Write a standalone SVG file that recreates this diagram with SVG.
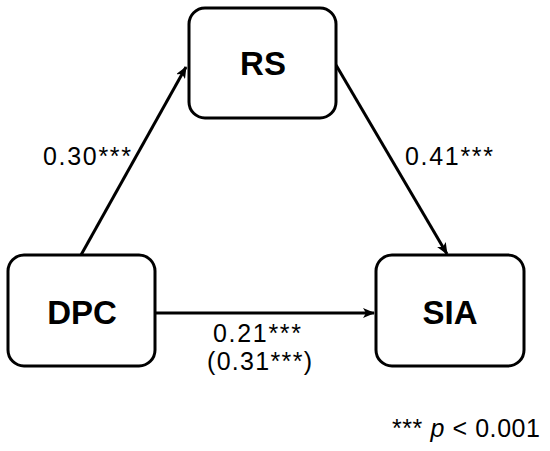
<svg xmlns="http://www.w3.org/2000/svg" width="550" height="451" viewBox="0 0 550 451">
<style>
.box{fill:#fff;stroke:#000;stroke-width:3}
.lbl{font-family:"Liberation Sans",Arial,sans-serif;font-weight:bold;font-size:33px;text-anchor:middle;fill:#000}
.coef{font-family:"Liberation Sans",Arial,sans-serif;font-size:25px;fill:#000}
.edge{stroke:#000;stroke-width:3;fill:none}
</style>
<defs>
<marker id="ah" viewBox="0 0 12 10" refX="11" refY="5" markerWidth="12" markerHeight="10" markerUnits="userSpaceOnUse" orient="auto">
<path d="M0,0 L12,5 L0,10 L3,5 z" fill="#000"/>
</marker>
</defs>
<g id="connectors">
<line class="edge" x1="81" y1="255" x2="186" y2="67" marker-end="url(#ah)"/>
<line class="edge" x1="336" y1="65" x2="447" y2="254" marker-end="url(#ah)"/>
<line class="edge" x1="155" y1="313" x2="374" y2="313" marker-end="url(#ah)"/>
</g>
<g id="node-RS">
<rect class="box" x="189" y="8" width="147" height="110" rx="16"/>
<text class="lbl" x="263" y="75">RS</text>
</g>
<g id="node-DPC">
<rect class="box" x="8" y="255" width="147" height="111" rx="16"/>
<text class="lbl" x="82" y="324">DPC</text>
</g>
<g id="node-SIA">
<rect class="box" x="376" y="255" width="148" height="111" rx="16"/>
<text class="lbl" x="450" y="324">SIA</text>
</g>
<g id="labels">
<text class="coef" x="43" y="165" textLength="88" lengthAdjust="spacing">0.30***</text>
<text class="coef" x="405" y="165" textLength="88" lengthAdjust="spacing">0.41***</text>
<text class="coef" x="213" y="342" textLength="88" lengthAdjust="spacing">0.21***</text>
<text class="coef" x="207" y="370" textLength="105" lengthAdjust="spacing">(0.31***)</text>
<text class="coef" x="392" y="437" font-size="23" textLength="148" lengthAdjust="spacing">*** <tspan font-style="italic">p</tspan> &lt; 0.001</text>
</g>
</svg>
